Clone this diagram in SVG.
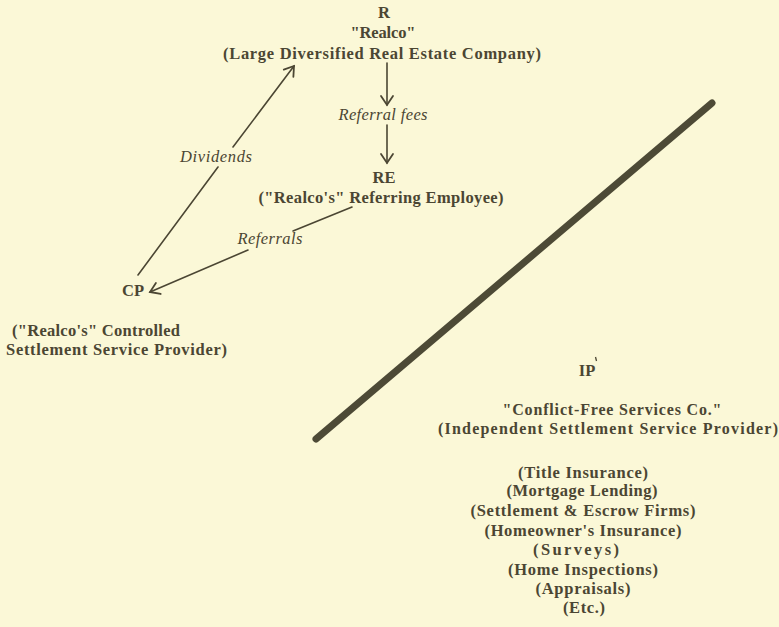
<svg xmlns="http://www.w3.org/2000/svg" width="779" height="627" viewBox="0 0 779 627">
<style>
.t{font-family:"Liberation Serif","Times New Roman",serif;font-size:16.5px;font-weight:bold;fill:#4b4633;}
.s{font-size:16px;}
.c{text-anchor:middle;}
.i{font-family:"Liberation Serif","Times New Roman",serif;font-size:16.5px;font-style:italic;fill:#4b4633;}
.ln{stroke:#4b4633;stroke-width:1.6;fill:none;stroke-linecap:round;}
</style>
<defs>
<marker id="ah" markerUnits="userSpaceOnUse" markerWidth="20" markerHeight="20" viewBox="-12 -10 14 20" refX="0" refY="0" orient="auto">
<path d="M-9,-6 L0,0 L-9,6" fill="none" stroke="#4b4633" stroke-width="1.8" stroke-linecap="round" stroke-linejoin="miter"/>
</marker>
</defs>
<rect width="779" height="627" fill="#fbf8d7"/>
<g id="R">
<text class="t c" x="384" y="18">R</text>
<text class="t c" x="383" y="38" textLength="65" lengthAdjust="spacing">"Realco"</text>
<text class="t c" x="382" y="59" textLength="318" lengthAdjust="spacing">(Large Diversified Real Estate Company)</text>
</g>
<g id="RE">
<text class="t c" x="384" y="183">RE</text>
<text class="t c" x="381" y="203" textLength="245" lengthAdjust="spacing">("Realco's" Referring Employee)</text>
</g>
<g id="CP">
<text class="t" x="122" y="296">CP</text>
<text class="t" x="12" y="336" textLength="168" lengthAdjust="spacing">("Realco's" Controlled</text>
<text class="t" x="6" y="355" textLength="221" lengthAdjust="spacing">Settlement Service Provider)</text>
</g>
<g id="IP">
<text class="t c" x="587" y="376">IP</text>
<path d="M595.5,357 L596.5,361" stroke="#4b4633" stroke-width="1.3"/>
<text class="t s c" x="612" y="415" textLength="219" lengthAdjust="spacing">"Conflict-Free Services Co."</text>
<text class="t s c" x="608" y="434" textLength="340" lengthAdjust="spacing">(Independent Settlement Service Provider)</text>
<text class="t c" x="583" y="478" textLength="130" lengthAdjust="spacing">(Title Insurance)</text>
<text class="t c" x="582" y="496" textLength="151" lengthAdjust="spacing">(Mortgage Lending)</text>
<text class="t c" x="583" y="516" textLength="225" lengthAdjust="spacing">(Settlement &amp; Escrow Firms)</text>
<text class="t c" x="583" y="536" textLength="197" lengthAdjust="spacing">(Homeowner's Insurance)</text>
<text class="t c" x="576" y="555" textLength="86" lengthAdjust="spacing">(Surveys)</text>
<text class="t c" x="583" y="575" textLength="150" lengthAdjust="spacing">(Home Inspections)</text>
<text class="t c" x="583" y="594" textLength="95" lengthAdjust="spacing">(Appraisals)</text>
<text class="t c" x="584" y="613" textLength="42" lengthAdjust="spacing">(Etc.)</text>
</g>
<g id="divider">
<line x1="316" y1="439" x2="712" y2="103" stroke="#4d4a36" stroke-width="7" stroke-linecap="round"/>
</g>
<g id="connectors">
<line class="ln" x1="387" y1="63" x2="387" y2="105" marker-end="url(#ah)"/>
<line class="ln" x1="387" y1="125" x2="387" y2="163" marker-end="url(#ah)"/>
<text class="i c" x="383" y="120" textLength="89" lengthAdjust="spacing">Referral fees</text>
<line class="ln" x1="138" y1="275" x2="218" y2="167"/>
<line class="ln" x1="233" y1="147" x2="294" y2="66" marker-end="url(#ah)"/>
<text class="i c" x="216" y="162" textLength="72" lengthAdjust="spacing">Dividends</text>
<line class="ln" x1="352" y1="207" x2="293" y2="231"/>
<line class="ln" x1="248" y1="250" x2="150" y2="292" marker-end="url(#ah)"/>
<text class="i c" x="270" y="244" textLength="65" lengthAdjust="spacing">Referrals</text>
</g>
</svg>
